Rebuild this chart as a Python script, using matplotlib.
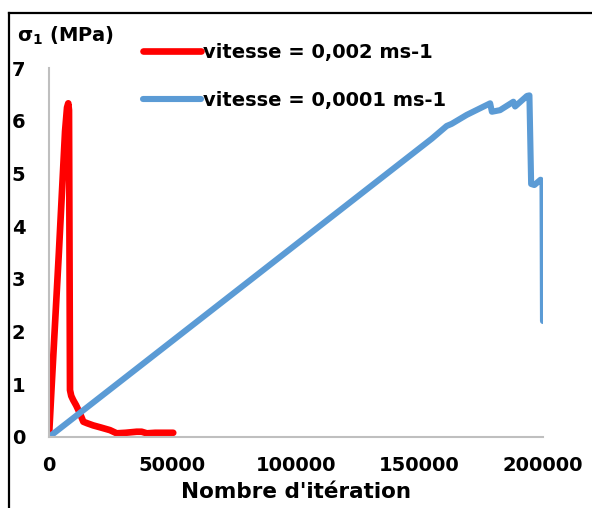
import matplotlib
matplotlib.use('Agg')
import matplotlib.pyplot as plt
from matplotlib.lines import Line2D

# courbe rouge : vitesse = 0,002 ms-1
red_iter = [0, 1000, 4000, 6500, 7300, 7800, 8100, 8500, 9000, 9800,
            11000, 12500, 13900, 15500, 17900, 21000, 24700, 27400, 31000,
            35500, 37500, 39600, 43000, 47000, 50300]
red_sigma = [0.0, 0.9, 3.5, 5.8, 6.25, 6.33, 6.2, 0.89, 0.78, 0.7,
             0.6, 0.45, 0.29, 0.26, 0.22, 0.18, 0.13, 0.07, 0.08,
             0.1, 0.1, 0.07, 0.08, 0.08, 0.08]

# courbe bleue : vitesse = 0,0001 ms-1
blue_iter = [0, 155000, 161000, 163000, 169100, 178600, 179300, 182600,
             188000, 188700, 193500, 194500, 195200, 196500, 199000,
             199800, 200000]
blue_sigma = [0.0, 5.66, 5.9, 5.94, 6.11, 6.33, 6.17, 6.2,
              6.36, 6.27, 6.47, 6.48, 4.8, 4.78, 4.88,
              4.85, 2.2]

labels = ['vitesse = 0,002 ms-1', 'vitesse = 0,0001 ms-1']
x_ticks = [0, 50000, 100000, 150000, 200000]
y_ticks = [0, 1, 2, 3, 4, 5, 6, 7]

plt.rcParams['font.family'] = 'DejaVu Sans'
plt.rcParams['font.weight'] = 'bold'

fig = plt.figure(figsize=(5.92, 5.08), dpi=100)
ax = fig.add_axes([49 / 592, 1 - 437 / 508, 494 / 592, 369 / 508])

ax.plot(red_iter, red_sigma, color='#FF0000', linewidth=4.8,
        solid_capstyle='round', solid_joinstyle='round', label=labels[0])
ax.plot(blue_iter, blue_sigma, color='#5B9BD5', linewidth=4.4,
        solid_capstyle='round', solid_joinstyle='round', label=labels[1])

ax.set_xlim(0, 200000)
ax.set_ylim(0, 7)
ax.set_xticks(x_ticks)
ax.set_yticks(y_ticks)
ax.set_xticklabels([str(v) for v in x_ticks], fontsize=14, fontweight='bold')
ax.set_yticklabels([str(v) for v in y_ticks], fontsize=14, fontweight='bold')
ax.tick_params(axis='x', length=0, pad=14)
ax.tick_params(axis='y', length=0, pad=17)

for side in ('top', 'right'):
    ax.spines[side].set_visible(False)
for side in ('left', 'bottom'):
    ax.spines[side].set_color('#BFBFBF')
    ax.spines[side].set_linewidth(1.5)

ax.set_xlabel("Nombre d'itération", fontsize=15.5, fontweight='bold',
              labelpad=5)

fig.text(17 / 592, 1 - 36 / 508, r'σ$_\mathbf{1}$ (MPa)', fontsize=14,
         fontweight='bold', va='center', ha='left')

leg = ax.legend(loc='upper left', bbox_to_anchor=(143 / 592, 1 - 43 / 508),
                bbox_transform=fig.transFigure, frameon=False,
                prop={'size': 14, 'weight': 'bold'}, handlelength=3.0,
                handletextpad=0.1, labelspacing=1.5, borderpad=0,
                borderaxespad=0)

# cadre noir (haut et gauche)
fig.add_artist(Line2D([9 / 592, 1.0], [1 - 13 / 508, 1 - 13 / 508],
                      transform=fig.transFigure, color='black', linewidth=1.6))
fig.add_artist(Line2D([9 / 592, 9 / 592], [0.0, 1 - 13 / 508],
                      transform=fig.transFigure, color='black', linewidth=1.6))

fig.savefig('out.png', dpi=100)
